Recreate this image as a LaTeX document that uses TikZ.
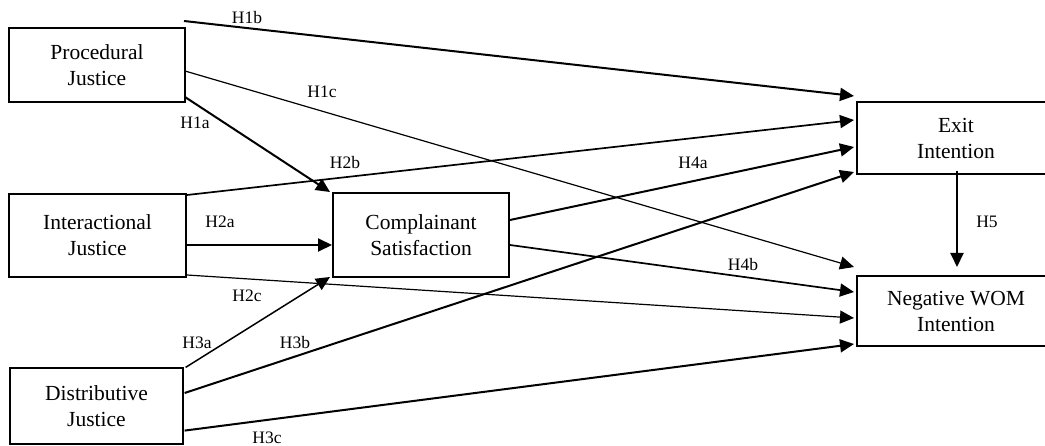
\documentclass[tikz,border=0pt]{standalone}
\usepackage{fontspec}
\setmainfont{Liberation Serif}
\usetikzlibrary{arrows.meta,calc}
\tikzset{
  box/.style={draw, line width=2pt, minimum width=#1, inner sep=0pt, align=center,
              font=\fontsize{21.5}{26}\selectfont},
  box/.default=176pt,
  link/.style={line width=2pt, -{Triangle[length=14pt,width=13pt]}},
  thinlink/.style={line width=1.2pt, -{Triangle[length=14pt,width=13pt]}},
  hyp/.style={inner sep=0pt, font=\fontsize{17.5}{20}\selectfont}
}
\begin{document}
\begin{tikzpicture}[x=1pt,y=-1pt]
  \useasboundingbox (0,0) rectangle (1045,446);

  % constructs
  \node[box=176pt, minimum height=74pt] (proc) at (97,65) {Procedural\\Justice};
  \node[box=177pt, minimum height=83pt] (inter) at (97.5,235.5) {Interactional\\Justice};
  \node[box=173pt, minimum height=76pt, line width=1.2pt] (dist) at (96.5,406) {Distributive\\Justice};
  \node[box=176pt, minimum height=84pt] (comp) at (421,235) {Complainant\\Satisfaction};
  \node[box=198pt, minimum height=72pt] (exit) at (956,138) {Exit\\Intention};
  \node[box=198pt, minimum height=70pt] (wom) at (956,311) {Negative WOM\\Intention};

  % hypothesised paths
  \draw[link] ($(proc.north east)+(-2,-6)$) -- ($(exit.north west)+(-2,-5)$);
  \draw[thinlink] ($(proc.east)+(-1,6)$) -- ($(wom.north west)+(-2,-8)$);
  \draw[link] ($(proc.south east)+(-1,-6)$) -- ($(comp.north west)+(-2,0)$);

  \draw[link, line width=1.7pt] ($(inter.north east)+(0,2)$) -- ($(exit.west)+(-2,-18)$);
  \draw[link] ($(inter.east)+(0,9.5)$) -- ($(comp.west)+(0,10)$);
  \draw[thinlink] ($(inter.south east)+(0,-3)$) -- ($(wom.west)+(-2,7)$);

  \draw[link, line width=1.5pt] ($(dist.north east)+(2,0)$) -- ($(comp.south west)+(-2,-1)$);
  \draw[link] ($(dist.east)+(1,-13)$) -- ($(exit.south west)+(-2,-3)$);
  \draw[link] ($(dist.south east)+(1,-14)$) -- ($(wom.south west)+(-2,-3)$);

  \draw[link] ($(comp.east)+(0,-15)$) -- ($(exit.west)+(-2,9)$);
  \draw[link, line width=1.7pt] ($(comp.east)+(0,10)$) -- ($(wom.west)+(-2,-19)$);

  \draw[link] ($(exit.south)+(1,-4)$) -- ($(wom.north)+(1,-8)$);

  % path labels
  \node[hyp] (l1b) at (247,18) {H1b};
  \node[hyp] (l1c) at (322,92) {H1c};
  \node[hyp] (l1a) at (195,123) {H1a};
  \node[hyp] (l2b) at (345,163) {H2b};
  \node[hyp] (l2a) at (220,222) {H2a};
  \node[hyp] (l2c) at (247,296) {H2c};
  \node[hyp] (l3a) at (197,343) {H3a};
  \node[hyp] (l3b) at (295,343) {H3b};
  \node[hyp] (l3c) at (267,438) {H3c};
  \node[hyp] (l4a) at (693,163) {H4a};
  \node[hyp] (l4b) at (743,265) {H4b};
  \node[hyp] (l5)  at (987,222) {H5};
\end{tikzpicture}
\end{document}
